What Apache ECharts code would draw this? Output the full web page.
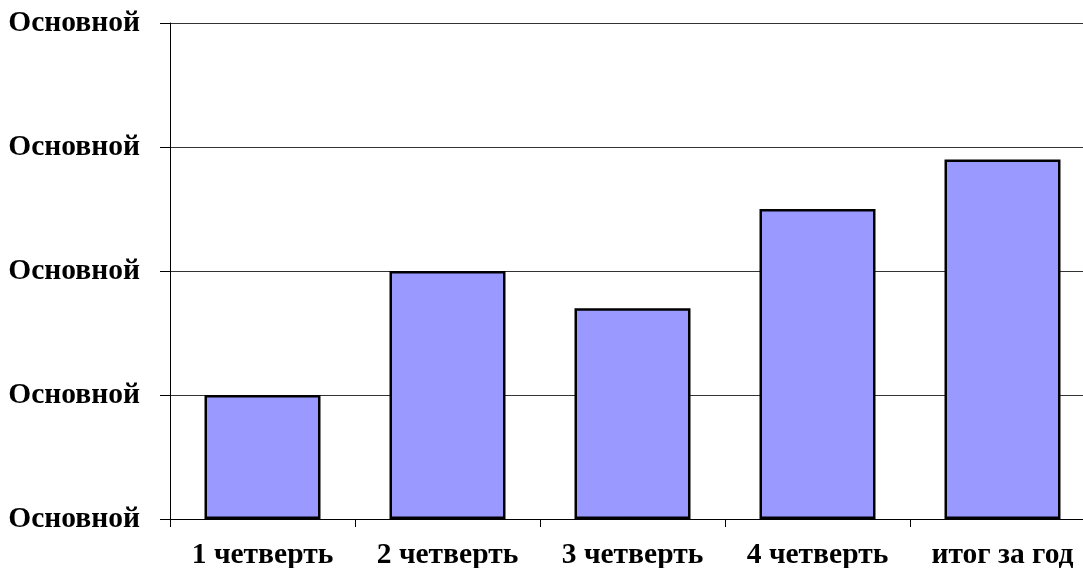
<!DOCTYPE html>
<html><head><meta charset="utf-8">
<script src="https://cdn.jsdelivr.net/npm/echarts@6/dist/echarts.min.js"></script>
<style>html,body{margin:0;padding:0;background:#fff}#c{width:1083px;height:568px}</style>
</head><body><div id="c"></div>
<script>
const categories = ['1 четверть', '2 четверть', '3 четверть', '4 четверть', 'итог за год'];
const values = [1, 2, 1.7, 2.5, 2.9];
const yTickLabel = 'Основной';

const chart = echarts.init(document.getElementById('c'), null, {renderer: 'canvas'});
const font = {fontFamily: '"Liberation Serif", "Times New Roman", serif', fontWeight: 'bold', fontSize: 29.5, color: '#000'};
chart.setOption({
  animation: false,
  backgroundColor: '#fff',
  grid: {left: 170, top: 23, width: 925, height: 496, containLabel: false, outerBoundsMode: 'none'},
  xAxis: {
    type: 'category', data: categories,
    axisLine: {show: true, lineStyle: {color: '#000', width: 1}},
    axisTick: {show: true, length: 8, alignWithLabel: false, lineStyle: {color: '#000'}},
    axisLabel: Object.assign({margin: 21, interval: 0}, font),
    splitLine: {show: false}
  },
  yAxis: {
    type: 'value', min: 0, max: 4, interval: 1,
    axisLine: {show: true, lineStyle: {color: '#000', width: 1}},
    axisTick: {show: true, length: 10, lineStyle: {color: '#000'}},
    axisLabel: Object.assign({margin: 30, formatter: () => yTickLabel}, font),
    splitLine: {show: true, lineStyle: {color: '#333', width: 1}}
  },
  series: [{
    type: 'bar', data: values, barWidth: '62.7%',
    itemStyle: {color: '#9999FF', borderColor: '#000', borderWidth: 2.5}
  }]
});
</script></body></html>
